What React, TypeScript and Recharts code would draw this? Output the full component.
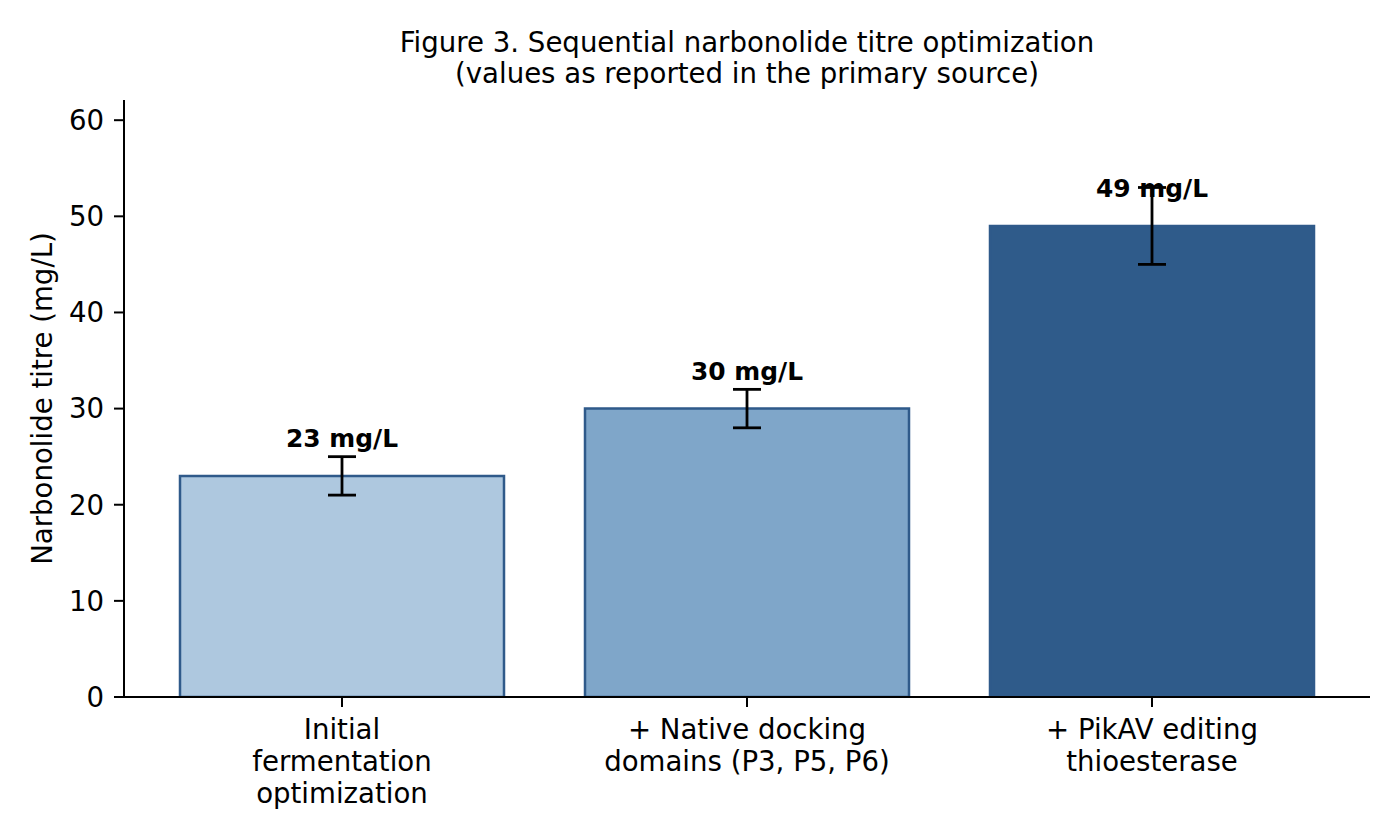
import React from 'react';
import { BarChart, Bar, XAxis, YAxis, Cell, ErrorBar, LabelList } from 'recharts';

const categories = [
  'Initial\nfermentation\noptimization',
  '+ Native docking\ndomains (P3, P5, P6)',
  '+ PikAV editing\nthioesterase',
];
const titres = [23, 30, 49];
const errors = [2, 2, 4];
const valueLabels = ['23 mg/L', '30 mg/L', '49 mg/L'];
const yTicks = [0, 10, 20, 30, 40, 50, 60];

const fills = ['#aec8df', '#7fa6c9', '#2f5b8a'];
const edge = '#2f5a8a';
const font = 'DejaVu Sans, sans-serif';

const data = categories.map((name, i) => ({
  name,
  titre: titres[i],
  err: errors[i],
  label: valueLabels[i],
}));

const CategoryTick = (props: any) => {
  const { x, y, payload } = props;
  const lines = String(payload.value).split('\n');
  return (
    <text x={x} y={y} textAnchor="middle" fontFamily={font} fontSize={27.6} fill="#000">
      {lines.map((ln, i) => (
        <tspan key={i} x={x} dy={i === 0 ? 32 : 32}>
          {ln}
        </tspan>
      ))}
    </text>
  );
};

// label baseline sits 3 units above the bar top
const ValueLabel = (props: any) => {
  const { x, y, width, height, index } = props;
  const perUnit = height / titres[index];
  return (
    <text
      x={x + width / 2}
      y={y - 3 * perUnit}
      textAnchor="middle"
      fontFamily={font}
      fontSize={24.9}
      fontWeight="bold"
      fill="#000"
    >
      {valueLabels[index]}
    </text>
  );
};

export default function App() {
  return (
    <div style={{ position: 'absolute', left: 0, top: 0, width: 1400, height: 840, background: '#fff' }}>
      <svg width={1400} height={100} style={{ position: 'absolute', left: 0, top: 0 }}>
        <text x={747} y={52} textAnchor="middle" fontFamily={font} fontSize={27.6} fill="#000">
          Figure 3. Sequential narbonolide titre optimization
        </text>
        <text x={747} y={83} textAnchor="middle" fontFamily={font} fontSize={27.6} fill="#000">
          (values as reported in the primary source)
        </text>
      </svg>
      <BarChart
        width={1400}
        height={840}
        data={data}
        margin={{ top: 100, right: 30, bottom: 0, left: 0 }}
        barCategoryGap="10%"
      >
        <XAxis
          dataKey="name"
          height={143}
          padding={{ left: 15.5, right: 15.5 }}
          interval={0}
          tick={<CategoryTick />}
          tickSize={10}
          tickMargin={0}
          axisLine={{ stroke: '#000', strokeWidth: 2 }}
          tickLine={{ stroke: '#000', strokeWidth: 2 }}
        />
        <YAxis
          width={124}
          domain={[0, 62.1]}
          ticks={yTicks}
          allowDataOverflow
          tickSize={10}
          tickMargin={10}
          tick={{ fill: '#000', fontSize: 27.6, fontFamily: font }}
          axisLine={{ stroke: '#000', strokeWidth: 2 }}
          tickLine={{ stroke: '#000', strokeWidth: 2 }}
          label={{
            value: 'Narbonolide titre (mg/L)',
            angle: -90,
            position: 'insideLeft',
            offset: 42,
            style: { textAnchor: 'middle', fontFamily: font, fontSize: 27.6, fill: '#000' },
          }}
        />
        <Bar dataKey="titre" stroke={edge} strokeWidth={2.5} isAnimationActive={false}>
          {data.map((d, i) => (
            <Cell key={d.name} fill={fills[i]} />
          ))}
          <ErrorBar dataKey="err" width={14} stroke="#000" strokeWidth={2.8} direction="y" />
          <LabelList dataKey="label" content={<ValueLabel />} />
        </Bar>
      </BarChart>
    </div>
  );
}
